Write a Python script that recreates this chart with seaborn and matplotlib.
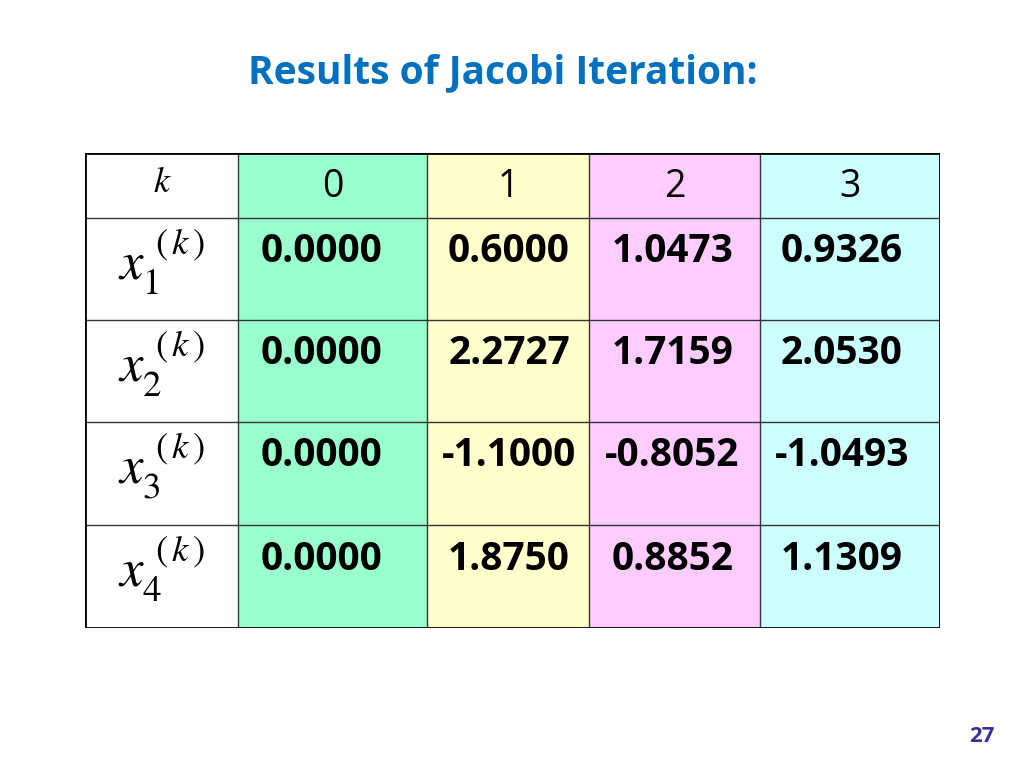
import matplotlib
matplotlib.use("Agg")
import matplotlib.pyplot as plt
import seaborn as sns
import numpy as np

sns.set_style("white")
plt.rcParams['font.family'] = ['Open Sans', 'DejaVu Sans']
plt.rcParams['mathtext.fontset'] = 'stix'
plt.rcParams['text.color'] = 'black'

iterations = ["0", "1", "2", "3"]
row_labels = [r"$x_1^{\,\,(\,k\,)}$", r"$x_2^{\,\,(\,k\,)}$", r"$x_3^{\,\,(\,k\,)}$", r"$x_4^{\,\,(\,k\,)}$"]
x1 = [0.0000, 0.6000, 1.0473, 0.9326]
x2 = [0.0000, 2.2727, 1.7159, 2.0530]
x3 = [0.0000, -1.1000, -0.8052, -1.0493]
x4 = [0.0000, 1.8750, 0.8852, 1.1309]
values = [x1, x2, x3, x4]
col_colors = ["#99FFCC", "#FFFFCC", "#FFCCFF", "#CCFFFF"]

fig = plt.figure(figsize=(10.24, 7.68), dpi=100)
fig.text(503/1024, 1-73/768, "Results of Jacobi Iteration:", color="#0070C0",
         fontsize=28, fontweight="bold", ha="center", va="center")
fig.text(982/1024, 1-737/768, "27", color="#333399", fontsize=16,
         fontweight="bold", ha="center", va="center")

ax = fig.add_axes([85/1024, 1-628/768, 855/1024, 475/768])
ax.set_xlim(85, 940)
ax.set_ylim(628, 153)
ax.axis("off")

xe = [85, 238, 427, 589, 760, 940]
ye = [153, 218, 320, 422, 525, 628]
for j in range(4):
    ax.fill_between([xe[j+1], xe[j+2]], ye[0], ye[-1], color=col_colors[j], lw=0)
for x in xe[1:-1]:
    ax.plot([x, x], [ye[0], ye[-1]], color="#333333", lw=1)
for y in ye[1:-1]:
    ax.plot([xe[0], xe[-1]], [y, y], color="#333333", lw=1)
ax.plot([xe[0], xe[-1], xe[-1], xe[0], xe[0]], [ye[0], ye[0], ye[-1], ye[-1], ye[0]],
        color="black", lw=2)

ax.text(162, 183, r"$k$", fontsize=26, ha="center", va="center")
for j, lab in enumerate(iterations):
    cx = (xe[j+1] + xe[j+2]) / 2
    ax.text(cx, 187, lab, fontsize=27, ha="center", va="center")
offs = [-11, 1, -2, -8]
for i, (lab, row) in enumerate(zip(row_labels, values)):
    top = ye[i+1]
    ax.text(162, top + 44, lab, fontsize=38, ha="center", va="center")
    for j, v in enumerate(row):
        cx = (xe[j+1] + xe[j+2]) / 2 + offs[j]
        ax.text(cx, top + 34, f"{v:.4f}", fontsize=28, fontweight="bold",
                ha="center", va="center")

fig.savefig("out.png", dpi=100)
